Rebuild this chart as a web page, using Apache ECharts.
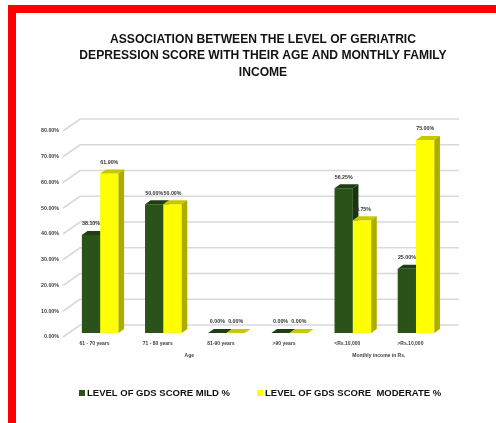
<!DOCTYPE html>
<html>
<head>
<meta charset="utf-8">
<script src="https://cdn.jsdelivr.net/npm/echarts@6/dist/echarts.min.js"></script>
<style>
  html, body { margin: 0; padding: 0; background: #ffffff; }
  #chart { width: 496px; height: 423px; }
</style>
</head>
<body>
<div id="chart"></div>
<script>
// Categories along the floor of the chart and their group headings
const categories = ['61 - 70 years', '71 - 80 years', '81-90 years', '>90 years', '<Rs.10,000', '>Rs.10,000'];
const groupTitles = ['Age', 'Monthly income in Rs.'];
const groupSpans = [[0, 3], [4, 5]];

// Percentages per GDS level
const mildValues = [38.10, 50.00, 0.00, 0.00, 56.25, 25.00];
const moderateValues = [61.90, 50.00, 0.00, 0.00, 43.75, 75.00];

// Value-axis ticks (percent)
const yTicks = [0, 10, 20, 30, 40, 50, 60, 70, 80];

const seriesNames = ['LEVEL OF GDS SCORE MILD %', 'LEVEL OF GDS SCORE  MODERATE %'];

const FONT = 'Liberation Sans';
const WALL_DX = 17, WALL_DY = -12;       // depth of the back wall
const BAR_DX = 5.6, BAR_DY = -4;         // depth of each column
const palette = {
  mild: { front: '#2a5219', top: '#1f3f12', side: '#1a3410' },
  moderate: { front: '#ffff00', top: '#c8c800', side: '#adad00' }
};

function fmt(v) { return v.toFixed(2) + '%'; }

// geometry of one 3D column
function columnRect(api, cat, value, side) {
  const p0 = api.coord([cat, 0]);
  const p1 = api.coord([cat, value]);
  const band = api.size([1, 0])[0];
  const bw = band * 0.29;
  const left = side === 0 ? p0[0] + BAR_DX - bw : p0[0] + BAR_DX;
  const bottom = p0[1] + BAR_DY;
  const top = p1[1] + BAR_DY;
  return { left, bw, bottom, top };
}

function makeColumns(values, side, colors) {
  return function (params, api) {
    const cat = api.value(0);
    const v = api.value(1);
    const r = columnRect(api, cat, v, side);
    const l = r.left, w = r.bw, t = r.top, b = r.bottom;
    return {
      type: 'group',
      children: [
        { type: 'rect', shape: { x: l, y: t, width: w, height: b - t }, style: { fill: colors.front } },
        { type: 'polygon', shape: { points: [[l, t], [l + w, t], [l + w + BAR_DX, t + BAR_DY], [l + BAR_DX, t + BAR_DY]] }, style: { fill: colors.top } },
        { type: 'polygon', shape: { points: [[l + w, t], [l + w, b], [l + w + BAR_DX, b + BAR_DY], [l + w + BAR_DX, t + BAR_DY]] }, style: { fill: colors.side } }
      ]
    };
  };
}

const chart = echarts.init(document.getElementById('chart'), null, { renderer: 'canvas' });

const option = {
  backgroundColor: '#ffffff',
  animation: false,
  title: {
    text: 'ASSOCIATION BETWEEN THE LEVEL OF GERIATRIC\nDEPRESSION SCORE WITH THEIR AGE AND MONTHLY FAMILY\nINCOME',
    left: 258,
    textAlign: 'center',
    top: 26,
    textStyle: { fontFamily: FONT, fontSize: 12.1, fontWeight: 'bold', color: '#111111', lineHeight: 16.5, align: 'center' }
  },
  legend: {
    data: seriesNames,
    top: 388,
    left: 79,
    padding: 0,
    icon: 'rect',
    itemWidth: 6,
    itemHeight: 6,
    itemGap: 27,
    textStyle: { fontFamily: FONT, fontSize: 9.5, fontWeight: 'bold', color: '#111111', padding: [0, 0, 0, -3] }
  },
  grid: { left: 63, right: 54, top: 131, bottom: 86, containLabel: false },
  xAxis: {
    type: 'category',
    data: categories,
    axisLine: { show: false },
    axisTick: { show: false },
    axisLabel: { fontFamily: FONT, fontSize: 5, fontWeight: 'bold', color: '#404040', margin: 4, interval: 0 }
  },
  yAxis: {
    type: 'value',
    min: yTicks[0],
    max: yTicks[yTicks.length - 1],
    interval: 10,
    axisLine: { show: false },
    axisTick: { show: false },
    splitLine: { show: false },
    axisLabel: { fontFamily: FONT, fontSize: 5.3, fontWeight: 'bold', color: '#404040', margin: 4, formatter: v => fmt(v) }
  },
  graphic: [
    { type: 'rect', shape: { x: 12, y: 9, width: 500, height: 425 }, style: { fill: 'none', stroke: '#ff0000', lineWidth: 8 }, z: 100 }
  ],
  series: [
    // back wall and floor gridlines
    {
      type: 'custom',
      name: 'grid',
      silent: true,
      z: 1,
      data: yTicks.map(v => [0, v]),
      renderItem: function (params, api) {
        const cs = params.coordSys;
        const y = api.coord([0, api.value(1)])[1];
        const x0 = cs.x, x1 = cs.x + cs.width;
        return {
          type: 'polyline',
          shape: { points: [[x0, y], [x0 + WALL_DX, y + WALL_DY], [x1 + WALL_DX, y + WALL_DY]] },
          style: { stroke: '#d9d9d9', lineWidth: 1.6, fill: 'none' }
        };
      }
    },
    {
      type: 'custom',
      name: seriesNames[0],
      z: 2,
      itemStyle: { color: palette.mild.front },
      data: mildValues.map((v, i) => [i, v]),
      renderItem: makeColumns(mildValues, 0, palette.mild)
    },
    {
      type: 'custom',
      name: seriesNames[1],
      z: 3,
      itemStyle: { color: palette.moderate.front },
      data: moderateValues.map((v, i) => [i, v]),
      renderItem: makeColumns(moderateValues, 1, palette.moderate)
    },
    // value labels above each column
    {
      type: 'custom',
      name: 'labels',
      silent: true,
      z: 4,
      data: mildValues.map((v, i) => [i, v, 0]).concat(moderateValues.map((v, i) => [i, v, 1])),
      renderItem: function (params, api) {
        const r = columnRect(api, api.value(0), api.value(1), api.value(2));
        return {
          type: 'text',
          style: {
            text: fmt(api.value(1)),
            x: r.left + r.bw / 2,
            y: r.top - BAR_DY - 15,
            align: 'center',
            verticalAlign: 'middle',
            font: 'bold 5.3px "' + FONT + '"',
            fill: '#333333'
          }
        };
      }
    },
    // group headings under the category labels
    {
      type: 'custom',
      name: 'groups',
      silent: true,
      z: 4,
      data: groupSpans.map((s, i) => [s[0], s[1], i]),
      renderItem: function (params, api) {
        const cs = params.coordSys;
        const band = api.size([1, 0])[0];
        const a = api.coord([api.value(0), 0])[0] - band / 2;
        const b = api.coord([api.value(1), 0])[0] + band / 2;
        return {
          type: 'text',
          style: {
            text: groupTitles[api.value(2)],
            x: (a + b) / 2,
            y: cs.y + cs.height + 19,
            align: 'center',
            verticalAlign: 'middle',
            font: 'bold 5px "' + FONT + '"',
            fill: '#404040'
          }
        };
      }
    }
  ]
};

chart.setOption(option);
</script>
</body>
</html>
